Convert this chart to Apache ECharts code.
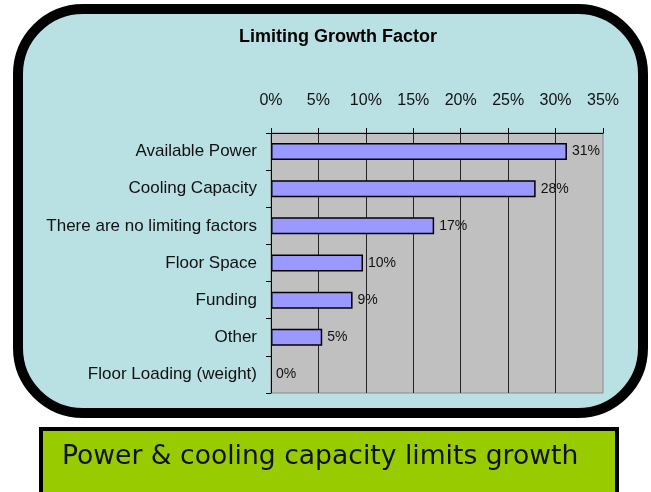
<!DOCTYPE html>
<html>
<head>
<meta charset="utf-8">
<script src="https://cdn.jsdelivr.net/npm/echarts@6/dist/echarts.min.js"></script>
<style>
html,body{margin:0;padding:0;background:#fff;}
#chart{width:651px;height:492px;}
</style>
</head>
<body>
<div id="chart"></div>
<script>
var categories = ["Available Power","Cooling Capacity","There are no limiting factors","Floor Space","Funding","Other","Floor Loading (weight)"];
var values = [31.2, 27.9, 17.2, 9.7, 8.6, 5.4, 0];
var xTicks = [0, 5, 10, 15, 20, 25, 30, 35];
var titleText = "Limiting Growth Factor";
var calloutText = "Power & cooling capacity limits growth";

var barData = values.map(function(v){
  return v === 0 ? {value: v, itemStyle: {borderWidth: 0}} : v;
});

var chart = echarts.init(document.getElementById('chart'), null, {renderer:'canvas'});
chart.setOption({
  animation: false,
  backgroundColor: '#ffffff',
  title: {
    text: titleText,
    left: 234,
    top: 23,
    textStyle: {fontFamily: 'Liberation Sans, Arial, sans-serif', fontWeight: 'bold', fontSize: 18, color: '#000'}
  },
  graphic: [
    {type:'rect', z:-10, shape:{x:18, y:9, width:625, height:404, r:65},
     style:{fill:'#b9e0e3', stroke:'#000', lineWidth:10}},
    {type:'rect', z:-10, shape:{x:41, y:429, width:576, height:80},
     style:{fill:'#99cc00', stroke:'#000', lineWidth:4}},
    {type:'text', z:10, x:62, y:457,
     style:{text: calloutText, fill:'#111', font:'26.6px "DejaVu Sans", Verdana, sans-serif', textVerticalAlign:'middle'}}
  ],
  grid: {
    left: 271, right: 48, top: 133, bottom: 99,
    show: true, backgroundColor: '#c0c0c0', borderColor: '#8a8a8a', borderWidth: 1
  },
  xAxis: {
    type: 'value', position: 'top', min: xTicks[0], max: xTicks[xTicks.length-1], interval: 5,
    axisLine: {show: true, lineStyle: {color: '#000', width: 1}},
    axisTick: {show: true, length: 5, lineStyle: {color: '#000'}},
    axisLabel: {formatter: '{value}%', fontSize: 16, color: '#111', margin: 24, fontFamily: 'Liberation Sans, Arial, sans-serif'},
    splitLine: {show: true, showMaxLine: false, showMinLine: false, lineStyle: {color: '#222', width: 1}}
  },
  yAxis: {
    type: 'category', data: categories, inverse: true,
    axisLine: {show: true, lineStyle: {color: '#000', width: 1}},
    axisTick: {show: true, length: 5, lineStyle: {color: '#000'}},
    axisLabel: {fontSize: 17, color: '#111', margin: 14, fontFamily: 'Liberation Sans, Arial, sans-serif'},
    splitLine: {show: false}
  },
  series: [{
    type: 'bar', data: barData, barWidth: 17,
    itemStyle: {color: '#9999ff', borderColor: '#000', borderWidth: 1.5},
    label: {show: true, position: 'right', distance: 5, fontSize: 14, color: '#111',
      fontFamily: 'Liberation Sans, Arial, sans-serif',
      formatter: function(p){ return Math.round(p.value) + '%'; }}
  }]
});
</script>
</body>
</html>
